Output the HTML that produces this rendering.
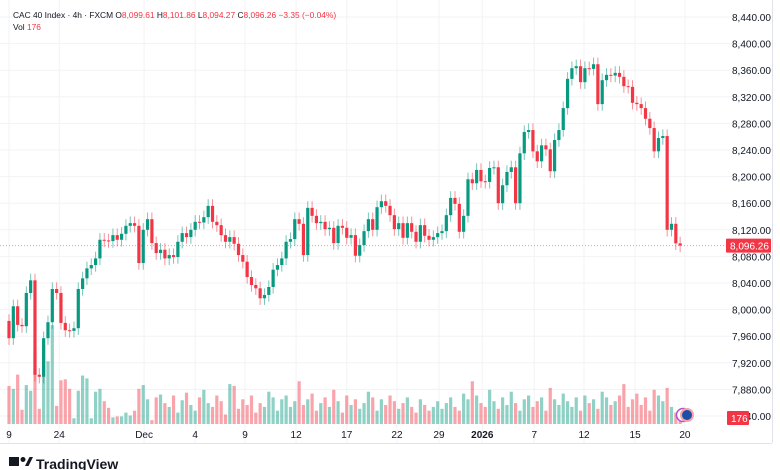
<!DOCTYPE html>
<html><head><meta charset="utf-8">
<style>
html,body{margin:0;padding:0;background:#fff;width:780px;height:470px;overflow:hidden;font-family:"Liberation Sans",sans-serif}
svg text{font-family:"Liberation Sans",sans-serif}
</style></head><body>
<svg id="chart" width="780" height="470" viewBox="0 0 780 470" xmlns="http://www.w3.org/2000/svg">
<g id="grid"></g>
<g id="vol"></g>
<g id="candles"></g>
<g id="axes"></g>
<line x1="0" y1="443.5" x2="772" y2="443.5" stroke="#e0e3eb"/>
<line x1="772.5" y1="0" x2="772.5" y2="443" stroke="#e0e3eb"/>
<text x="13" y="18" font-size="8.4" fill="#131722">CAC 40 Index · 4h · FXCM  O<tspan fill="#f23645">8,099.61</tspan>  H<tspan fill="#f23645">8,101.86</tspan>  L<tspan fill="#f23645">8,094.27</tspan>  C<tspan fill="#f23645">8,096.26</tspan>  <tspan fill="#f23645">−3.35 (−0.04%)</tspan></text>
<text x="13" y="30" font-size="8.4" fill="#131722">Vol <tspan fill="#f23645">176</tspan></text>
<g>
<rect x="9" y="457" width="10" height="9" fill="#131722"/>
<circle cx="23" cy="459.5" r="2.5" fill="#131722"/>
<path d="M25 466 L29.5 457 L33 457 L28.5 466 Z" fill="#131722"/>
<text x="36" y="469" font-size="14" font-weight="bold" fill="#131722">TradingView</text>
</g>
</svg>
<script>
const closes=[7957,8005,7977,7975,8025,8044,7902,7899,7957,7981,8031,8025,7980,7969,7968,7972,8031,8047,8062,8067,8077,8105,8104,8103,8112,8105,8114,8126,8130,8126,8070,8120,8136,8100,8085,8090,8077,8082,8079,8102,8115,8109,8120,8132,8131,8139,8156,8132,8127,8112,8102,8109,8099,8082,8072,8049,8037,8032,8017,8022,8034,8060,8067,8077,8102,8106,8136,8129,8082,8153,8141,8130,8132,8121,8123,8100,8126,8123,8108,8112,8081,8097,8118,8136,8120,8154,8163,8156,8142,8121,8130,8108,8130,8117,8102,8127,8111,8105,8109,8115,8118,8142,8168,8159,8117,8141,8196,8190,8210,8193,8192,8213,8214,8160,8187,8207,8214,8160,8235,8267,8270,8238,8223,8247,8241,8208,8255,8270,8303,8347,8363,8366,8342,8363,8362,8369,8309,8345,8353,8352,8356,8350,8336,8335,8311,8309,8303,8287,8273,8238,8258,8261,8120,8129,8099.61,8096.26];
const firstOpen=7983;
const volumes=[40,37,52,15,41,35,77,16,84,66,104,19,46,47,37,6,35,51,48,6,34,37,24,17,7,8,8,12,9,14,37,41,26,4,28,31,22,18,30,12,25,33,20,14,28,36,22,18,30,24,10,42,40,16,26,20,30,12,22,18,34,28,14,26,30,18,24,45,20,26,32,14,22,28,18,36,24,12,30,20,26,16,22,34,28,14,26,20,30,24,16,22,28,18,12,26,20,14,18,24,16,22,28,18,14,32,26,45,30,22,18,36,24,16,28,20,34,22,14,26,30,18,24,28,14,38,26,20,32,24,18,28,14,30,22,26,16,34,28,20,24,30,42,18,26,32,20,28,14,36,30,24,38,18,12,8];
const priceTicks=[8440,8400,8360,8320,8280,8240,8200,8160,8120,8080,8040,8000,7960,7920,7880,7840];
const timeLabels=["9","24","Dec","4","9","12","17","22","29","2026","7","12","15","20"];
const timeIdx=[0,11.6,31.2,43,54.5,66.3,78,89.6,99.3,109.3,121.3,132.8,144.6,156.1];
const lastPrice=8096.26;
const lastVol=176;

const NS="http://www.w3.org/2000/svg";
const X=i=>9+i*4.33;
const Y=p=>17+(8440-p)*0.665;
const VY0=424, VMAX=110, VH=110;
const VY=v=>VY0-v/VMAX*VH*0.95;
function mk(tag,attrs,parent){const e=document.createElementNS(NS,tag);for(const k in attrs)e.setAttribute(k,attrs[k]);parent.appendChild(e);return e;}
const grid=document.getElementById('grid'),vol=document.getElementById('vol'),cg=document.getElementById('candles'),ax=document.getElementById('axes');
priceTicks.forEach(p=>{
 const l=mk('line',{x1:0,x2:772,y1:Y(p),y2:Y(p),stroke:'#f2f3f5'},grid);
 
 
 const t=mk('text',{x:732,y:Y(p)+4,'font-size':10,fill:'#131722'},ax);
 t.textContent=p.toLocaleString('en-US',{minimumFractionDigits:2});
 
 
});
timeLabels.forEach((s,k)=>{
 const x=X(timeIdx[k]);
 const l=mk('line',{x1:x,x2:x,y1:0,y2:443,stroke:'#f2f3f5'},grid);
 
 
 const t=mk('text',{x:x,y:438,'font-size':10,fill:'#131722','text-anchor':'middle','font-weight':s==='2026'?'bold':'normal'},ax);
 t.textContent=s;
 
 
});
closes.forEach((c,i)=>{
 const o=i===0?firstOpen:closes[i-1];
 const up=c>=o;
 const col=up?'#089981':'#f23645';
 const x=X(i);
 const v=mk('rect',{x:x-1.6,y:VY(volumes[i]),width:3.2,height:VY0-VY(volumes[i]),fill:up?'rgba(8,153,129,0.45)':'rgba(242,54,69,0.45)'},vol);
 
 
 const hi=Math.max(o,c)+10, lo=Math.min(o,c)-10;
 const w=mk('line',{x1:x,x2:x,y1:Y(hi),y2:Y(lo),stroke:col,'stroke-width':1,opacity:0.55},cg);
 
 
 const top=Y(Math.max(o,c)),bot=Y(Math.min(o,c));
 const b=mk('rect',{x:x-1.6,y:top,width:3.2,height:Math.max(1,bot-top),fill:col},cg);
 
 
});
const ly=Y(lastPrice);
const pl=mk('line',{x1:0,x2:725,y1:ly,y2:ly,stroke:'#f23645','stroke-dasharray':'1 2',opacity:0.5},ax);


const pb=mk('rect',{x:726,y:ly-7,width:45,height:14,fill:'#f23645',rx:1},ax);


const pt=mk('text',{x:730,y:ly+4,'font-size':10,fill:'#fff'},ax);
pt.textContent=lastPrice.toLocaleString('en-US',{minimumFractionDigits:2});


const vb=mk('rect',{x:727,y:411,width:22,height:14,fill:'#f23645',rx:1},ax);


const vt=mk('text',{x:731,y:422,'font-size':10,fill:'#fff'},ax);
vt.textContent=String(lastVol);


const ev2=mk('circle',{cx:683,cy:415,r:6.5,fill:'#fff',stroke:'#b04fd0','stroke-width':1.5},ax);


const ev=mk('circle',{cx:687,cy:415,r:6,fill:'#1e4fa8',stroke:'#f7a1a8','stroke-width':2},ax);


</script>
</body></html>
